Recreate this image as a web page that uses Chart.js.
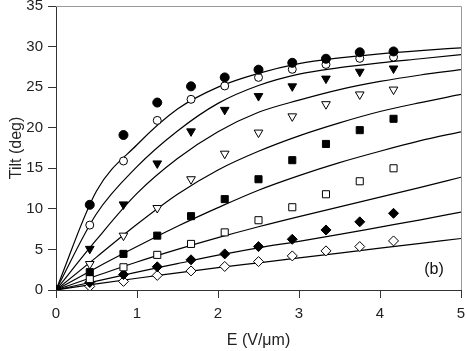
<!DOCTYPE html>
<html>
<head>
<meta charset="utf-8">
<script src="https://cdn.jsdelivr.net/npm/chart.js@4.4.1/dist/chart.umd.min.js"></script>
<style>
  html, body { margin: 0; padding: 0; background: #fff; }
  #wrap { width: 467px; height: 351px; }
</style>
</head>
<body>
<div id="wrap"><canvas id="tiltChart"></canvas></div>
<script>
// measured field values (V/um) and tilt angles (deg)
const fieldE = [0, 0.417, 0.833, 1.25, 1.667, 2.083, 2.5, 2.917, 3.333, 3.75, 4.167];
const tiltFilledCircle   = [0, 10.5, 19.1, 23.1, 25.1, 26.2, 27.15, 28.0, 28.5, 29.3, 29.4];
const tiltOpenCircle     = [0, 8.0, 15.9, 20.9, 23.5, 25.15, 26.2, 27.2, 27.8, 28.55, 28.7];
const tiltFilledTriangle = [0, 5.07, 10.55, 15.6, 19.55, 22.2, 23.9, 25.1, 26.05, 26.9, 27.3];
const tiltOpenTriangle   = [0, 3.2, 6.7, 10.1, 13.65, 16.8, 19.4, 21.4, 22.9, 24.1, 24.7];
const tiltFilledSquare   = [0, 2.2, 4.45, 6.7, 9.1, 11.2, 13.65, 16.0, 18.0, 19.7, 21.1];
const tiltOpenSquare     = [0, 1.35, 2.8, 4.33, 5.68, 7.1, 8.6, 10.2, 11.8, 13.4, 15.0];
const tiltFilledDiamond  = [0, 0.93, 1.9, 2.86, 3.72, 4.45, 5.35, 6.25, 7.4, 8.4, 9.45];
const tiltOpenDiamond    = [0, 0.45, 1.06, 1.8, 2.35, 2.9, 3.5, 4.2, 4.82, 5.35, 6.05];

// fitted curves
const fitE = [0, 0.5, 1, 1.5, 2, 2.5, 3, 3.5, 4, 4.5, 5];
const fit1 = [0, 12.2, 17.9, 22.3, 25.0, 26.7, 27.9, 28.6, 29.1, 29.5, 29.85];
const fit2 = [0, 9.4, 15.2, 19.6, 23.0, 25.2, 26.6, 27.4, 28.0, 28.5, 29.0];
const fit3 = [0, 6.2, 11.9, 16.2, 19.5, 21.9, 23.4, 24.7, 25.7, 26.5, 27.15];
const fit4 = [0, 4.05, 8.1, 11.8, 14.8, 17.1, 19.0, 20.6, 22.0, 23.1, 24.1];
const fit5 = [0, 2.75, 5.35, 7.85, 10.15, 12.3, 14.1, 15.7, 17.1, 18.4, 19.5];
const fit6 = [0, 1.75, 3.45, 5.0, 6.45, 7.8, 9.05, 10.25, 11.45, 12.65, 13.9];
const fit7 = [0, 1.1, 2.2, 3.25, 4.3, 5.2, 6.0, 6.85, 7.75, 8.65, 9.6];
const fit8 = [0, 0.75, 1.45, 2.1, 2.75, 3.35, 3.95, 4.55, 5.15, 5.75, 6.35];

const xTicks = [0, 1, 2, 3, 4, 5];
const yTicks = [0, 5, 10, 15, 20, 25, 30, 35];

function pairs(xs, ys) {
    return xs.map((x, i) => ({ x: x, y: ys[i] }));
}

function markerSet(ys, style, filled, radius, rotation) {
    return {
        data: pairs(fieldE, ys),
        showLine: false,
        pointStyle: style,
        pointRadius: radius,
        pointRotation: rotation || 0,
        pointBackgroundColor: filled ? '#000' : '#fff',
        pointBorderColor: '#000',
        pointBorderWidth: 1,
        order: 0
    };
}

function fitSet(ys) {
    return {
        data: pairs(fitE, ys),
        showLine: true,
        borderColor: '#000',
        borderWidth: 1.2,
        pointRadius: 0,
        cubicInterpolationMode: 'monotone',
        fill: false,
        order: 1
    };
}

// gray top/right frame and the panel label
const framePlugin = {
    id: 'frame',
    afterDraw(chart) {
        const { ctx, chartArea: a } = chart;
        ctx.save();
        ctx.strokeStyle = '#999';
        ctx.lineWidth = 1;
        ctx.beginPath();
        ctx.moveTo(a.left, a.top + 0.5);
        ctx.lineTo(a.right + 0.5, a.top + 0.5);
        ctx.lineTo(a.right + 0.5, a.bottom);
        ctx.stroke();
        ctx.fillStyle = '#111';
        ctx.font = '16px "Liberation Sans", Arial, sans-serif';
        ctx.textAlign = 'center';
        ctx.textBaseline = 'middle';
        ctx.fillText('(b)', a.right - 27, a.bottom - 20);
        ctx.restore();
    }
};

const font15 = { family: '"Liberation Sans", Arial, sans-serif', size: 15 };
const font16 = { family: '"Liberation Sans", Arial, sans-serif', size: 16 };

new Chart(document.getElementById('tiltChart'), {
    type: 'scatter',
    data: {
        datasets: [
            fitSet(fit1), fitSet(fit2), fitSet(fit3), fitSet(fit4),
            fitSet(fit5), fitSet(fit6), fitSet(fit7), fitSet(fit8),
            markerSet(tiltFilledCircle, 'circle', true, 4.5),
            markerSet(tiltOpenCircle, 'circle', false, 4),
            markerSet(tiltFilledTriangle, 'triangle', true, 5, 180),
            markerSet(tiltOpenTriangle, 'triangle', false, 5, 180),
            markerSet(tiltFilledSquare, 'rect', true, 5),
            markerSet(tiltOpenSquare, 'rect', false, 5),
            markerSet(tiltFilledDiamond, 'rectRot', true, 5),
            markerSet(tiltOpenDiamond, 'rectRot', false, 5)
        ]
    },
    options: {
        responsive: true,
        maintainAspectRatio: false,
        animation: false,
        layout: { padding: { top: 5, right: 4, left: 0, bottom: 0 } },
        plugins: {
            legend: { display: false },
            tooltip: { enabled: false }
        },
        scales: {
            x: {
                type: 'linear',
                min: 0,
                max: 5,
                afterBuildTicks: s => { s.ticks = xTicks.map(v => ({ value: v })); },
                afterFit: s => {
                    s.height = 61;
                    s.paddingLeft = 0; s.paddingRight = 0;
                },
                ticks: { font: font15, color: '#222', padding: 7, maxRotation: 0 },
                grid: { drawOnChartArea: false, drawTicks: true, tickLength: 8, color: '#333' },
                border: { color: '#333', width: 1 },
                title: { display: true, text: 'E (V/\u03bcm)', font: font16, color: '#222', padding: { top: 0, bottom: 1 } }
            },
            y: {
                min: 0,
                max: 35,
                afterBuildTicks: s => { s.ticks = yTicks.map(v => ({ value: v })); },
                afterFit: s => {
                    s.width = 56;
                    s.paddingTop = 0; s.paddingBottom = 0;
                },
                ticks: { font: font15, color: '#222', padding: 5 },
                grid: { drawOnChartArea: false, drawTicks: true, tickLength: 8, color: '#333' },
                border: { color: '#333', width: 1 },
                title: { display: true, text: 'Tilt (deg)', font: font16, color: '#222', padding: { top: 7, bottom: 0 } }
            }
        }
    },
    plugins: [framePlugin]
});
</script>
</body>
</html>
